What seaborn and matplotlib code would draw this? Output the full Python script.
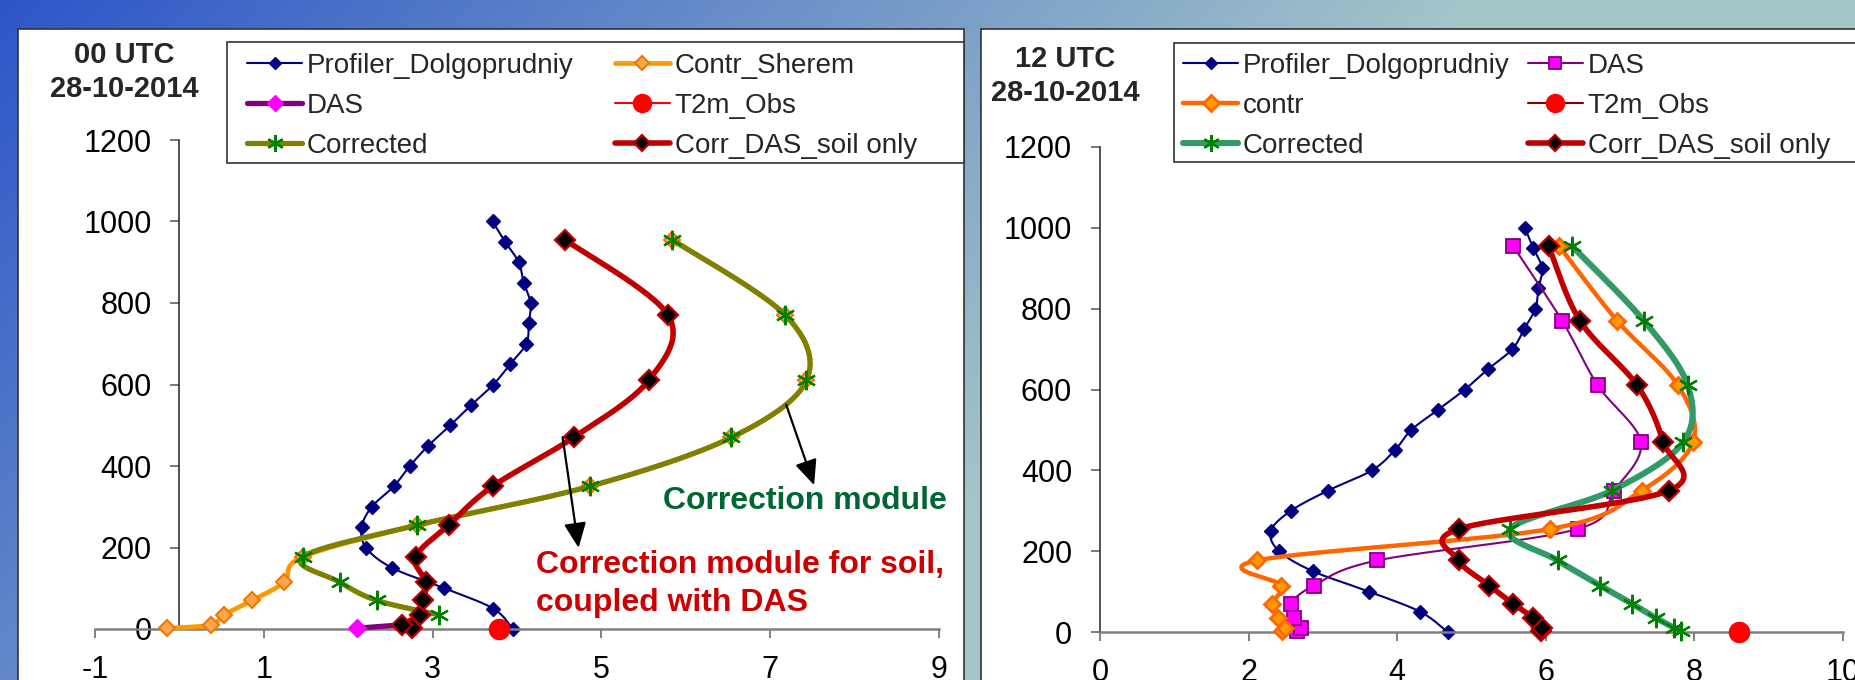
import numpy as np
import matplotlib
matplotlib.use("Agg")
import matplotlib.pyplot as plt
from matplotlib.lines import Line2D
from matplotlib.patches import Rectangle
import seaborn as sns

sns.set_theme(style="ticks")
plt.rcParams["font.family"] = ["Liberation Sans", "DejaVu Sans"]
plt.rcParams["axes.unicode_minus"] = False

# ---------------------------------------------------------------- data
# model levels (m) shared by the model series
levels = [2, 10, 35, 70, 115, 177, 255, 350, 470, 610, 770, 955]
# wind-profiler heights (m)
profiler_heights = [0, 50, 100, 150, 200, 250, 300, 350, 400, 450, 500,
                    550, 600, 650, 700, 750, 800, 850, 900, 950, 1000]

# 00 UTC 28-10-2014
prof_00 = [3.95, 3.72, 3.14, 2.52, 2.21, 2.16, 2.28, 2.54, 2.73, 2.95, 3.21,
           3.46, 3.72, 3.92, 4.11, 4.14, 4.16, 4.08, 4.02, 3.86, 3.71]
contr_00 = [-0.15, 0.37, 0.53, 0.86, 1.24, 1.46, 2.82, 4.86, 6.54, 7.43, 7.18, 5.84]
das_levels_00 = [2, 10]
das_00 = [2.11, 2.62]
corr_levels_00 = [35, 70, 115, 177, 255, 350, 470, 610, 770, 955]
corr_00 = [3.07, 2.34, 1.90, 1.46, 2.82, 4.86, 6.54, 7.43, 7.18, 5.84]
corrdas_00 = [2.75, 2.64, 2.85, 2.89, 2.92, 2.80, 3.19, 3.71, 4.67, 5.56, 5.79, 4.57]
t2m_00 = [3.79]

# 12 UTC 28-10-2014
prof_12 = [4.68, 4.31, 3.62, 2.87, 2.41, 2.30, 2.57, 3.07, 3.66, 3.97, 4.19,
           4.55, 4.91, 5.22, 5.55, 5.71, 5.86, 5.90, 5.95, 5.83, 5.72]
das_12 = [2.65, 2.70, 2.61, 2.57, 2.88, 3.73, 6.43, 6.92, 7.28, 6.70, 6.22, 5.56]
contr_12 = [2.45, 2.49, 2.40, 2.32, 2.44, 2.11, 6.06, 7.29, 7.98, 7.78, 6.96, 6.18]
corr_12 = [7.82, 7.73, 7.48, 7.16, 6.73, 6.16, 5.52, 6.89, 7.85, 7.91, 7.32, 6.35]
corrdas_12 = [5.94, 5.95, 5.83, 5.56, 5.24, 4.83, 4.83, 7.66, 7.58, 7.23, 6.46, 6.04]
t2m_12 = [8.60]
t2m_level = [0]

y_ticks = [0, 200, 400, 600, 800, 1000, 1200]
x_ticks_00 = [-1, 1, 3, 5, 7, 9]
x_ticks_12 = [0, 2, 4, 6, 8, 10]

# ---------------------------------------------------------------- layout
W, H, DPI = 1855, 680, 100
fig = plt.figure(figsize=(W / DPI, H / DPI), dpi=DPI)


def fx(px):
    return px / W


def fy(py):
    return 1 - py / H


# slide-like gradient backdrop
bg = fig.add_axes([0, 0, 1, 1], zorder=-5)
gx, gy = np.meshgrid(np.linspace(0, 1, 400), np.linspace(0, 1, 160))
t = np.clip(1.25 * gx + 0.45 * gy, 0, 1)[..., None]
c0 = np.array([45, 85, 200]) / 255
c1 = np.array([165, 198, 200]) / 255
bg.imshow(c0 + (c1 - c0) * t, aspect="auto", extent=[0, 1, 0, 1])
bg.axis("off")


def panel_box(x0, y0, x1, y1, z=1, lw=1.2):
    fig.add_artist(Rectangle((fx(x0), fy(y1)), fx(x1) - fx(x0), fy(y0) - fy(y1),
                             transform=fig.transFigure, facecolor="white",
                             edgecolor="#333333", lw=lw, zorder=z))


panel_box(18, 29, 964, 700)
panel_box(981, 29, 1875, 700)
panel_box(227, 42, 964, 163, z=1.5)
panel_box(1174, 43, 1875, 162, z=1.5)

ax0 = fig.add_axes([fx(95), fy(629), fx(939) - fx(95), fy(140) - fy(629)], zorder=3)
ax1 = fig.add_axes([fx(1100), fy(632), fx(1843) - fx(1100), fy(147) - fy(632)], zorder=3)


def smooth(ax, xs, ys, xlim, n=30):
    """Excel-style smoothed polyline (Catmull-Rom Bezier) computed in pixel space."""
    pos = ax.get_position()
    sx = pos.width * W / (xlim[1] - xlim[0])
    sy = pos.height * H / 1200.0
    P = np.column_stack([np.asarray(xs, float) * sx, np.asarray(ys, float) * sy])
    if len(P) < 3:
        return np.asarray(xs, float), np.asarray(ys, float)
    ext = np.vstack([P[0], P, P[-1]])
    tt = np.linspace(0, 1, n, endpoint=False)[:, None]
    out = []
    for i in range(len(P) - 1):
        p0, p1, p2, p3 = ext[i], ext[i + 1], ext[i + 2], ext[i + 3]
        c1_ = p1 + (p2 - p0) / 6
        c2_ = p2 - (p3 - p1) / 6
        out.append((1 - tt) ** 3 * p1 + 3 * (1 - tt) ** 2 * tt * c1_
                   + 3 * (1 - tt) * tt ** 2 * c2_ + tt ** 3 * p2)
    out.append(P[-1:])
    Q = np.vstack(out)
    return Q[:, 0] / sx, Q[:, 1] / sy


def series(ax, xlim, xs, ys, st, z):
    if st.get("lw", 0) > 0 and len(xs) > 1:
        cx, cy = smooth(ax, xs, ys, xlim)
        sns.lineplot(x=cx, y=cy, sort=False, estimator=None, ax=ax, color=st["color"],
                     lw=st["lw"], legend=False, zorder=z, clip_on=False)
    sns.lineplot(x=np.asarray(xs, float), y=np.asarray(ys, float), sort=False,
                 estimator=None, ax=ax, ls="", marker=st["marker"], ms=st["ms"],
                 color=st["mfc"], mfc=st["mfc"], mec=st["mec"], mew=st["mew"],
                 legend=False, zorder=z + 0.5, clip_on=False)


def handle(st):
    return Line2D([], [], color=st["color"], lw=max(st.get("lw", 0), st.get("leg_lw", 0)),
                  marker=st["marker"], ms=st.get("leg_ms", st["ms"]), mfc=st["mfc"],
                  mec=st["mec"], mew=st["mew"])


STAR = (6, 2, 0)

# ---------------------------------------------------------------- styles
sty_prof = dict(color="#000080", lw=1.5, marker="D", ms=7.2, leg_ms=6.5,
                mfc="#000080", mec="#000080", mew=1)
sty_contr00 = dict(color="#FF9900", lw=3.4, marker="D", ms=8, leg_ms=7,
                   mfc="#FFA64D", mec="#F07800", mew=1.5)
sty_das00 = dict(color="#800080", lw=3.8, marker="D", ms=9.5, leg_ms=8.5,
                 mfc="#FF00FF", mec="#FF00FF", mew=1)
sty_t2m00 = dict(color="#FF0000", lw=0, leg_lw=1.5, marker="o", ms=14.5, leg_ms=13,
                 mfc="#FF0000", mec="#FF0000", mew=1)
sty_corr00 = dict(color="#808000", lw=3.8, marker=STAR, ms=14, leg_ms=12,
                  mfc="#008000", mec="#008000", mew=1.6)
sty_corrdas = dict(color="#C00000", lw=4.0, marker="D", ms=10, leg_ms=8,
                   mfc="black", mec="#C00000", mew=1.6)

sty_das12 = dict(color="#800080", lw=1.5, marker="s", ms=10.5, leg_ms=9,
                 mfc="#FF00FF", mec="#800080", mew=1.3)
sty_contr12 = dict(color="#FF6600", lw=3.2, marker="D", ms=8.5, leg_ms=8,
                   mfc="#FF9900", mec="#FF6600", mew=2)
sty_t2m12 = dict(color="#800000", lw=0, leg_lw=1.5, marker="o", ms=14.5, leg_ms=13,
                 mfc="#FF0000", mec="#FF0000", mew=1)
sty_corr12 = dict(color="#339966", lw=4.4, marker=STAR, ms=14, leg_ms=12,
                  mfc="#008000", mec="#008000", mew=1.6)

# ---------------------------------------------------------------- 00 UTC panel
xl0 = (-1, 9)
series(ax0, xl0, prof_00, profiler_heights, sty_prof, 2)
series(ax0, xl0, contr_00, levels, sty_contr00, 3)
series(ax0, xl0, das_00, das_levels_00, sty_das00, 4)
series(ax0, xl0, t2m_00, t2m_level, sty_t2m00, 5)
series(ax0, xl0, corr_00, corr_levels_00, sty_corr00, 6)
series(ax0, xl0, corrdas_00, levels, sty_corrdas, 7)

# ---------------------------------------------------------------- 12 UTC panel
xl1 = (0, 10)
series(ax1, xl1, prof_12, profiler_heights, sty_prof, 2)
series(ax1, xl1, das_12, levels, sty_das12, 3)
series(ax1, xl1, contr_12, levels, sty_contr12, 4)
series(ax1, xl1, t2m_12, t2m_level, sty_t2m12, 5)
series(ax1, xl1, corr_12, levels, sty_corr12, 6)
series(ax1, xl1, corrdas_12, levels, sty_corrdas, 7)


def style_axis(ax, xlim, xticks, yaxis_at):
    ax.set_xlim(xlim)
    ax.set_ylim(0, 1200)
    ax.set_xticks(xticks)
    ax.set_yticks(y_ticks)
    ax.set_xlabel("")
    ax.set_ylabel("")
    ax.grid(False)
    ax.patch.set_visible(False)
    for s in ("top", "right"):
        ax.spines[s].set_visible(False)
    ax.spines["left"].set_position(("data", yaxis_at))
    ax.spines["left"].set_color("#222222")
    ax.spines["left"].set_linewidth(1.1)
    ax.spines["bottom"].set_color("#808080")
    ax.spines["bottom"].set_linewidth(1.8)
    ax.tick_params(axis="x", direction="out", length=6.5, width=1.4, color="#808080",
                   pad=12.5, labelsize=22, labelcolor="black")
    ax.tick_params(axis="y", direction="out", length=6.5, width=1.1, color="#555555",
                   pad=13.5, labelsize=22, labelcolor="black")


style_axis(ax0, xl0, x_ticks_00, 0)
style_axis(ax1, xl1, x_ticks_12, 0)

# ---------------------------------------------------------------- annotations
arrow = dict(arrowstyle="-|>,head_length=0.45,head_width=0.2", color="black",
             lw=1.6, mutation_scale=34, shrinkA=0, shrinkB=0)
ax0.annotate("", xy=(4.73, 199), xytext=(4.54, 471), arrowprops=arrow, zorder=8)
ax0.annotate("", xy=(7.52, 353), xytext=(7.19, 550), arrowprops=arrow, zorder=8)
ax0.text(5.73, 295, "Correction module", color="#006633", fontsize=23,
         fontweight="bold", ha="left", va="baseline", zorder=9)
ax0.text(4.23, 137, "Correction module for soil,", color="#CC0000", fontsize=23,
         fontweight="bold", ha="left", va="baseline", zorder=9)
ax0.text(4.23, 43, "coupled with DAS", color="#CC0000", fontsize=23,
         fontweight="bold", ha="left", va="baseline", zorder=9)

# ---------------------------------------------------------------- titles
for cx, y1, y2, lab in ((124, 63, 97, "00 UTC"), (1065, 67, 101, "12 UTC")):
    fig.text(fx(cx), fy(y1), lab, ha="center", va="baseline", fontsize=21, fontweight="bold")
    fig.text(fx(cx), fy(y2), "28-10-2014", ha="center", va="baseline", fontsize=21,
             fontweight="bold")

# ---------------------------------------------------------------- legends
leg_kw = dict(loc="upper left", bbox_transform=fig.transFigure, ncol=2, frameon=False,
              fontsize=20, handlelength=1.98, handletextpad=0.18, labelspacing=0.5,
              borderpad=0, borderaxespad=0, numpoints=1)
fig.legend(handles=[handle(sty_prof), handle(sty_das00), handle(sty_corr00),
                    handle(sty_contr00), handle(sty_t2m00), handle(sty_corrdas)],
           labels=["Profiler_Dolgoprudniy", "DAS", "Corrected",
                   "Contr_Sherem", "T2m_Obs", "Corr_DAS_soil only"],
           bbox_to_anchor=(fx(247), fy(53)), columnspacing=1.48, **leg_kw)
fig.legend(handles=[handle(sty_prof), handle(sty_contr12), handle(sty_corr12),
                    handle(sty_das12), handle(sty_t2m12), handle(sty_corrdas)],
           labels=["Profiler_Dolgoprudniy", "contr", "Corrected",
                   "DAS", "T2m_Obs", "Corr_DAS_soil only"],
           bbox_to_anchor=(fx(1183), fy(53)), columnspacing=0.65, **leg_kw)

fig.savefig("out.png", dpi=DPI)
